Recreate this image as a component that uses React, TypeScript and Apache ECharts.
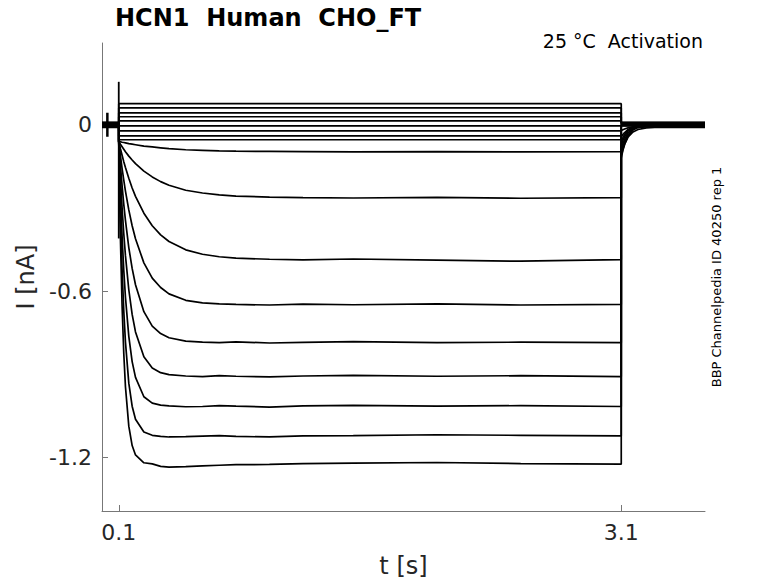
import React, { useEffect, useRef } from "react";
import * as echarts from "echarts";

// Axis ticks
const xTicks = [0.1, 3.1];
const yTicks = [-1.2, -0.6, 0];

// Non-activating sweeps (flat steady level during the step, nA)
const flatLevels = [0.076, 0.061, 0.043, 0.029, 0.014, -0.004, -0.022, -0.04, -0.054];
const flatHolding = [0.009, 0.008, 0.006, 0.005, 0.003, 0.002, 0.0, -0.001, -0.003];

// Activating sweeps: shared sample times during the step (s)
const stepTimes = [0.1, 0.105, 0.11, 0.12, 0.13, 0.14, 0.16, 0.18, 0.2, 0.25, 0.3, 0.35, 0.4, 0.5, 0.6, 0.7, 0.8, 1.0, 1.2, 1.5, 2.0, 2.5, 3.1];
const tailTimes = [3.1, 3.11, 3.12, 3.14, 3.17, 3.2, 3.25, 3.3, 3.45, 3.6];
const kineticHolding = [-0.004, -0.006, -0.008, 0.007, 0.004, 0.001, -0.002, -0.009, 0.005];

const sweep1 = [-0.06, -0.061, -0.061, -0.063, -0.064, -0.065, -0.068, -0.07, -0.072, -0.077, -0.08, -0.083, -0.086, -0.09, -0.092, -0.094, -0.095, -0.096, -0.097, -0.098, -0.097, -0.098, -0.097];
const sweep2 = [-0.06, -0.065, -0.07, -0.079, -0.088, -0.097, -0.113, -0.127, -0.14, -0.167, -0.188, -0.205, -0.218, -0.236, -0.246, -0.253, -0.257, -0.261, -0.263, -0.264, -0.262, -0.265, -0.263];
const sweep3 = [-0.06, -0.073, -0.086, -0.11, -0.133, -0.154, -0.193, -0.228, -0.258, -0.319, -0.364, -0.397, -0.421, -0.451, -0.467, -0.476, -0.481, -0.485, -0.487, -0.484, -0.488, -0.492, -0.486];
const sweep4 = [-0.06, -0.086, -0.111, -0.158, -0.2, -0.239, -0.307, -0.364, -0.411, -0.498, -0.553, -0.587, -0.61, -0.633, -0.642, -0.646, -0.648, -0.65, -0.647, -0.649, -0.646, -0.65, -0.648];
const sweep5 = [-0.06, -0.104, -0.145, -0.22, -0.287, -0.345, -0.443, -0.518, -0.577, -0.674, -0.726, -0.753, -0.768, -0.78, -0.784, -0.786, -0.783, -0.787, -0.785, -0.782, -0.786, -0.784, -0.786];
const sweep6 = [-0.06, -0.128, -0.19, -0.3, -0.393, -0.472, -0.595, -0.684, -0.747, -0.837, -0.877, -0.894, -0.901, -0.906, -0.908, -0.905, -0.907, -0.909, -0.906, -0.904, -0.907, -0.905, -0.908];
const sweep7 = [-0.06, -0.16, -0.25, -0.403, -0.525, -0.622, -0.763, -0.854, -0.911, -0.981, -1.004, -1.011, -1.014, -1.017, -1.016, -1.013, -1.015, -1.018, -1.014, -1.012, -1.015, -1.013, -1.016];
const sweep8 = [-0.06, -0.202, -0.324, -0.523, -0.672, -0.784, -0.932, -1.015, -1.062, -1.108, -1.12, -1.124, -1.126, -1.125, -1.123, -1.121, -1.124, -1.126, -1.122, -1.121, -1.118, -1.12, -1.122];
const sweep9 = [-0.06, -0.25, -0.41, -0.654, -0.825, -0.945, -1.087, -1.157, -1.191, -1.219, -1.223, -1.232, -1.235, -1.233, -1.23, -1.228, -1.226, -1.225, -1.222, -1.22, -1.218, -1.222, -1.224];

const tail1 = [-0.004, -0.004, -0.004, -0.004, -0.004, -0.004, -0.004, -0.004, -0.004, -0.004];
const tail2 = [-0.021, -0.018, -0.015, -0.011, -0.008, -0.007, -0.006, -0.006, -0.006, -0.006];
const tail3 = [-0.044, -0.035, -0.028, -0.018, -0.012, -0.009, -0.008, -0.008, -0.008, -0.008];
const tail4 = [-0.061, -0.046, -0.035, -0.019, -0.006, 0.0, 0.005, 0.007, 0.007, 0.007];
const tail5 = [-0.075, -0.056, -0.043, -0.024, -0.009, 0.0, 0.003, 0.004, 0.004, 0.004];
const tail6 = [-0.087, -0.068, -0.052, -0.031, -0.014, -0.006, -0.001, 0.001, 0.001, 0.001];
const tail7 = [-0.098, -0.078, -0.061, -0.038, -0.019, -0.01, -0.004, -0.002, -0.002, -0.002];
const tail8 = [-0.11, -0.088, -0.07, -0.045, -0.026, -0.017, -0.011, -0.009, -0.009, -0.009];
const tail9 = [-0.12, -0.092, -0.071, -0.041, -0.016, -0.005, 0.004, 0.005, 0.005, 0.005];

const sweeps = [sweep1, sweep2, sweep3, sweep4, sweep5, sweep6, sweep7, sweep8, sweep9];
const tails = [tail1, tail2, tail3, tail4, tail5, tail6, tail7, tail8, tail9];

// Artifacts: capacitive spike at step onset and the pre-pulse glitch
const spikeTimes = [0.1, 0.1];
const spikeValues = [0.155, -0.41];
const glitchTimes = [0.032, 0.032];
const glitchValues = [0.043, -0.043];

const TEXT = "#262626";
const AXIS = "#777777";
const FONT = "DejaVu Sans";

export default function App() {
  const ref = useRef<HTMLDivElement>(null);

  useEffect(() => {
    if (!ref.current) return;
    const chart = echarts.init(ref.current, null, { renderer: "svg" });

    const lineStyle = { color: "#000", width: 1.7 };
    const series: any[] = [];

    flatLevels.forEach((v, i) => {
      const h = flatHolding[i];
      series.push({
        type: "line",
        data: [[0, h], [0.1, h], [0.1, v], [3.1, v], [3.1, h], [3.6, h]],
        showSymbol: false,
        lineStyle,
        silent: true,
      });
    });

    sweeps.forEach((vals, i) => {
      const h = kineticHolding[i];
      const data: number[][] = [[0, h], [0.1, h]];
      stepTimes.forEach((t, j) => data.push([t, vals[j]]));
      tailTimes.forEach((t, j) => data.push([t, tails[i][j]]));
      series.push({ type: "line", data, showSymbol: false, lineStyle, silent: true });
    });

    series.push({
      type: "line",
      data: spikeTimes.map((t, j) => [t, spikeValues[j]]),
      showSymbol: false,
      lineStyle: { color: "#000", width: 1.8 },
      silent: true,
    });
    series.push({
      type: "line",
      data: glitchTimes.map((t, j) => [t, glitchValues[j]]),
      showSymbol: false,
      lineStyle: { color: "#000", width: 2.5 },
      silent: true,
    });

    chart.setOption({
      animation: false,
      backgroundColor: "#ffffff",
      grid: { left: 102, top: 43, width: 603, height: 469, containLabel: false },
      xAxis: {
        type: "value",
        min: 0,
        max: 3.6,
        name: "t [s]",
        nameLocation: "middle",
        nameGap: 43,
        nameTextStyle: { fontSize: 24, color: TEXT, fontFamily: FONT },
        axisLine: { show: true, onZero: false, lineStyle: { color: AXIS, width: 1 } },
        axisTick: { show: true, inside: true, length: 6, customValues: xTicks, lineStyle: { color: AXIS } },
        axisLabel: { customValues: xTicks, fontSize: 22, color: TEXT, fontFamily: FONT, margin: 10, formatter: (v: number) => String(v) },
        splitLine: { show: false },
      },
      yAxis: {
        type: "value",
        min: -1.393,
        max: 0.295,
        name: "I [nA]",
        nameLocation: "middle",
        nameGap: 58,
        nameTextStyle: { fontSize: 24, color: TEXT, fontFamily: FONT },
        axisLine: { show: true, onZero: false, lineStyle: { color: AXIS, width: 1 } },
        axisTick: { show: true, inside: true, length: 6, customValues: yTicks, lineStyle: { color: AXIS } },
        axisLabel: { customValues: yTicks, fontSize: 22, color: TEXT, fontFamily: FONT, margin: 10, formatter: (v: number) => String(v) },
        splitLine: { show: false },
      },
      graphic: [
        {
          type: "text",
          x: 115,
          y: 18,
          style: { text: "HCN1  Human  CHO_FT", font: `bold 24px "${FONT}"`, fill: "#000", align: "left", verticalAlign: "middle" },
        },
        {
          type: "text",
          x: 703,
          y: 41,
          style: { text: "25 °C  Activation", font: `19px "${FONT}"`, fill: "#000", align: "right", verticalAlign: "middle" },
        },
        {
          type: "text",
          x: 716,
          y: 277,
          rotation: Math.PI / 2,
          style: { text: "BBP Channelpedia ID 40250 rep 1", font: `13px "${FONT}"`, fill: "#000", align: "center", verticalAlign: "middle" },
        },
      ],
      series,
    });

    return () => chart.dispose();
  }, []);

  return (
    <div
      ref={ref}
      style={{ position: "fixed", left: 0, top: 0, width: 778, height: 583, background: "#fff" }}
    />
  );
}
